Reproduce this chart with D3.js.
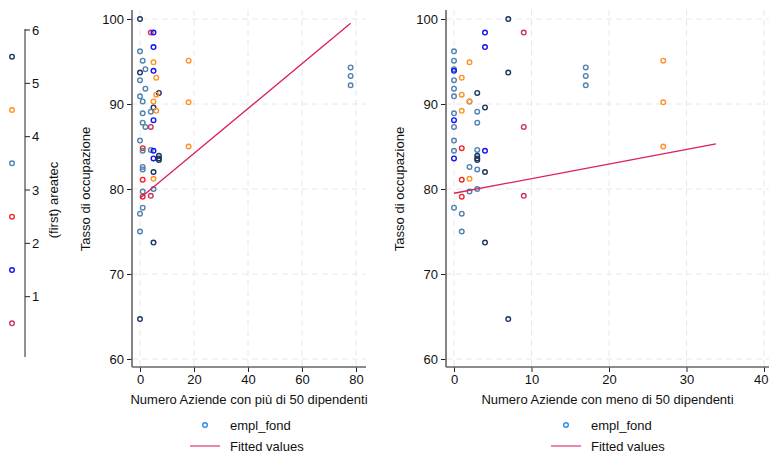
<!DOCTYPE html>
<html><head><meta charset="utf-8">
<script src="https://cdn.jsdelivr.net/npm/d3@7"></script>
<style>body{margin:0;background:#fff}svg{display:block;font-family:"Liberation Sans",Arial,sans-serif}</style>
</head><body><svg id="c" width="769" height="453"></svg>
<script>
// ---- data ----
const areaCodes = [1, 2, 3, 4, 5, 6];
const areaColors = ["#cc3360", "#1414f0", "#f52525", "#4f82b0", "#ff9326", "#1c3560"];
const areaTicks = [1, 2, 3, 4, 5, 6];
// observation values: y = Tasso di occupazione, x1 = aziende >50 dip., x2 = aziende <50 dip.
const obsY  = [100.0, 98.4, 98.4, 96.7, 96.2, 95.1, 94.9, 93.7, 94.1, 93.9, 92.8, 93.1, 91.8, 91.3, 91.1, 90.9, 90.3, 90.3, 89.6, 89.2, 88.9, 89.1, 88.1, 87.8, 87.3, 87.3, 85.7, 84.8, 84.5, 84.6, 84.5, 83.6, 83.9, 83.6, 83.4, 82.6, 82.3, 82.0, 81.1, 81.2, 79.7, 80.0, 79.1, 79.2, 77.8, 77.1, 75.0, 73.7, 64.7, 95.1, 90.2, 85.0, 94.3, 93.3, 92.2];
const obsX1 = [0, 4, 5, 5, 0, 1, 5, 0, 2, 5, 0, 6, 2, 7, 6, 0, 1, 5, 5, 6, 1, 4, 5, 1, 2, 4, 0, 1, 1, 4, 5, 5, 7, 7, 7, 1, 1, 5, 1, 5, 1, 5, 1, 4, 1, 0, 0, 5, 0, 18, 18, 18, 78, 78, 78];
const obsX2 = [7, 9, 4, 4, 0, 0, 2, 7, 0, 0, 0, 1, 0, 3, 1, 0, 2, 2, 4, 1, 0, 3, 0, 3, 0, 9, 0, 1, 0, 3, 4, 0, 3, 3, 3, 2, 3, 4, 1, 2, 2, 3, 1, 9, 0, 1, 1, 4, 7, 27, 27, 27, 17, 17, 17];
const obsArea = [6, 1, 2, 2, 4, 4, 5, 6, 4, 2, 4, 5, 4, 6, 5, 4, 4, 5, 6, 5, 4, 4, 2, 4, 4, 1, 4, 3, 4, 4, 2, 2, 6, 6, 6, 4, 4, 6, 3, 5, 4, 4, 3, 1, 4, 4, 4, 6, 6, 5, 5, 5, 4, 4, 4];
// fitted lines (endpoints)
const fit1X = [0, 78], fit1Y = [78.9, 99.5];
const fit2X = [0, 33.8], fit2Y = [79.5, 85.3];
const yTicks = [60, 70, 80, 90, 100];
const x1Ticks = [0, 20, 40, 60, 80];
const x2Ticks = [0, 10, 20, 30, 40];
const legendLabels = ["empl_fond", "Fitted values"];

const svg = d3.select("#c");
const color = d3.scaleOrdinal().domain(areaCodes).range(areaColors);
const fitColor = "#dc1e5a";
const gridColor = "#e8e8e8";
const axisColor = "#666";

// ---- color legend (left) ----
const cScale = d3.scaleLinear().domain([0, 6]).range([350, 30]);
const cl = svg.append("g");
cl.append("line").attr("x1", 25).attr("x2", 25).attr("y1", cScale(6) - 1).attr("y2", cScale(0) + 7)
  .attr("stroke", "#222").attr("stroke-width", 1);
cl.selectAll(".ct").data(areaTicks).join("line")
  .attr("x1", 25).attr("x2", 30).attr("y1", d => cScale(d)).attr("y2", d => cScale(d))
  .attr("stroke", "#222");
cl.selectAll(".cl").data(areaTicks).join("text")
  .attr("x", 32).attr("y", d => cScale(d)).attr("dy", "0.35em")
  .attr("font-size", 13).attr("fill", "#111").text(d => d);
cl.selectAll("circle").data(areaCodes).join("circle")
  .attr("cx", 12).attr("cy", d => cScale(d - 0.5)).attr("r", 2.3)
  .attr("fill", "none").attr("stroke", d => color(d)).attr("stroke-width", 1.4);
cl.append("text").attr("transform", "translate(53,200) rotate(-90)")
  .attr("text-anchor", "middle").attr("dy", "0.35em").attr("font-size", 13).attr("fill", "#111")
  .text("(first) areatec");

// ---- panels ----
function panel(opts) {
  const { left, right, x0px, xMaxPx, xDomainMax, xTicks, xs, fitX, fitY, xTitle, yTitleX, legendX } = opts;
  const x = d3.scaleLinear().domain([0, xDomainMax]).range([x0px, xMaxPx]);
  const y = d3.scaleLinear().domain([60, 100]).range([359, 19]);
  const top = 10, bottom = 367;
  const g = svg.append("g");
  // grid
  g.selectAll(".gy").data(yTicks).join("line")
    .attr("x1", left).attr("x2", right).attr("y1", d => y(d)).attr("y2", d => y(d))
    .attr("stroke", gridColor).attr("stroke-width", 1).attr("stroke-dasharray", "6,4");
  g.selectAll(".gx").data(xTicks).join("line")
    .attr("x1", d => x(d)).attr("x2", d => x(d)).attr("y1", top).attr("y2", bottom)
    .attr("stroke", gridColor).attr("stroke-width", 1).attr("stroke-dasharray", "6,4");
  // axes
  const ya = g.append("g").attr("transform", `translate(${left},0)`)
    .call(d3.axisLeft(y).tickValues(yTicks).tickSize(5).tickPadding(3));
  ya.select(".domain").remove();
  g.append("line").attr("x1", left).attr("x2", left).attr("y1", top).attr("y2", bottom)
    .attr("stroke", axisColor).attr("stroke-width", 1.6);
  const xa = g.append("g").attr("transform", `translate(0,${bottom})`)
    .call(d3.axisBottom(x).tickValues(xTicks).tickSize(5).tickPadding(3));
  xa.select(".domain").remove();
  g.append("line").attr("x1", left).attr("x2", right).attr("y1", bottom).attr("y2", bottom)
    .attr("stroke", axisColor).attr("stroke-width", 1.6);
  [ya, xa].forEach(a => {
    a.selectAll("text").attr("font-size", 13).attr("fill", "#111").attr("font-family", "Liberation Sans, Arial, sans-serif");
    a.selectAll(".tick line").attr("stroke", "#222");
  });
  // keep the last x tick label inside the window
  xa.selectAll(".tick text").filter(d => x(d) + 8 > 769).attr("text-anchor", "end").attr("dx", 768 - x(xDomainMax));
  // titles
  g.append("text").attr("transform", `translate(${yTitleX},189) rotate(-90)`)
    .attr("text-anchor", "middle").attr("dy", "0.35em").attr("font-size", 13).attr("fill", "#111")
    .text("Tasso di occupazione");
  g.append("text").attr("x", (left + right) / 2).attr("y", 399).attr("dy", "0.35em")
    .attr("text-anchor", "middle").attr("font-size", 13).attr("fill", "#111").text(xTitle);
  // points
  g.selectAll(".pt").data(obsY.map((v, i) => ({ y: v, x: xs[i], a: obsArea[i] }))).join("circle")
    .attr("cx", d => x(d.x)).attr("cy", d => y(d.y)).attr("r", 2.3)
    .attr("fill", "none").attr("stroke", d => color(d.a)).attr("stroke-width", 1.4);
  // fitted line
  const line = d3.line().x(d => x(d[0])).y(d => y(d[1]));
  g.append("path").datum(fitX.map((v, i) => [v, fitY[i]])).attr("d", line)
    .attr("fill", "none").attr("stroke", fitColor).attr("stroke-width", 1.3);
  // legend
  g.append("circle").attr("cx", legendX).attr("cy", 425).attr("r", 2.3)
    .attr("fill", "none").attr("stroke", "#2e8ee0").attr("stroke-width", 1.4);
  g.append("text").attr("x", legendX + 25).attr("y", 425).attr("dy", "0.35em")
    .attr("font-size", 13).attr("fill", "#111").text(legendLabels[0]);
  g.append("line").attr("x1", legendX - 15).attr("x2", legendX + 15).attr("y1", 446).attr("y2", 446)
    .attr("stroke", "#e0487a").attr("stroke-width", 1.3);
  g.append("text").attr("x", legendX + 25).attr("y", 446).attr("dy", "0.35em")
    .attr("font-size", 13).attr("fill", "#111").text(legendLabels[1]);
}

panel({ left: 132, right: 366, x0px: 140, xMaxPx: 356, xDomainMax: 80, xTicks: x1Ticks, xs: obsX1,
  fitX: fit1X, fitY: fit1Y, xTitle: "Numero Aziende con più di 50 dipendenti", yTitleX: 85, legendX: 205 });
panel({ left: 446, right: 769, x0px: 454, xMaxPx: 764, xDomainMax: 40, xTicks: x2Ticks, xs: obsX2,
  fitX: fit2X, fitY: fit2Y, xTitle: "Numero Aziende con meno di 50 dipendenti", yTitleX: 399, legendX: 566 });
</script></body></html>
